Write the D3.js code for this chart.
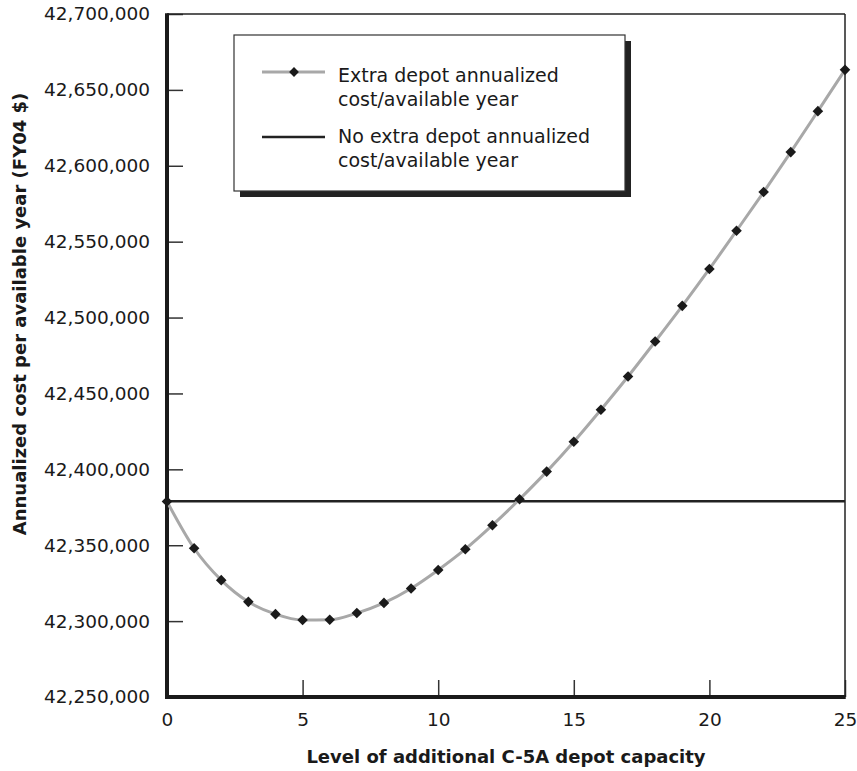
<!DOCTYPE html>
<html><head><meta charset="utf-8">
<script src="https://cdn.jsdelivr.net/npm/d3@7/dist/d3.min.js"></script>
<style>body{margin:0;background:#fff}</style>
</head><body>
<svg id="chart" width="857" height="771"></svg>
<script>
const levels = [0,1,2,3,4,5,6,7,8,9,10,11,12,13,14,15,16,17,18,19,20,21,22,23,24,25];
const extraDepotCost = [42378800,42348000,42327000,42312700,42304600,42300700,42300900,42305300,42312000,42321500,42333700,42347400,42363200,42380300,42398500,42418200,42439300,42461200,42484200,42507700,42532000,42557200,42582700,42609000,42636000,42663200];
const noExtraDepotCost = 42378900;
const yTicks = [42250000,42300000,42350000,42400000,42450000,42500000,42550000,42600000,42650000,42700000];
const xTicks = [0,5,10,15,20,25];
const legendLabels = [["Extra depot annualized","cost/available year"],["No extra depot annualized","cost/available year"]];
const xTitle = "Level of additional C-5A depot capacity";
const yTitle = "Annualized cost per available year (FY04 $)";

const svg = d3.select("#chart");
const font = "'DejaVu Sans', sans-serif";
const L = 167, R = 845, T = 14, B = 697;
const x = d3.scaleLinear().domain([0,25]).range([L,R]);
const y = d3.scaleLinear().domain([42250000,42700000]).range([B,T]);

// y axis ticks + labels
const yAx = svg.append("g").attr("transform",`translate(${L},0)`)
  .call(d3.axisLeft(y).tickValues(yTicks).tickSize(-16).tickPadding(17).tickFormat(d3.format(",")));
yAx.select(".domain").remove();
yAx.selectAll("line").attr("stroke","#333").attr("stroke-width",1.5);
yAx.selectAll("text").attr("font-family",font).attr("font-size",18.5).attr("fill","#1a1a1a");

const xAx = svg.append("g").attr("transform",`translate(0,${B})`)
  .call(d3.axisBottom(x).tickValues(xTicks).tickSize(-17).tickPadding(15.5).tickFormat(d3.format("d")));
xAx.select(".domain").remove();
xAx.selectAll("line").attr("stroke","#333").attr("stroke-width",1.5);
xAx.selectAll("text").attr("font-family",font).attr("font-size",18.5).attr("fill","#1a1a1a");

// frame
svg.append("line").attr("x1",L).attr("x2",R).attr("y1",T).attr("y2",T).attr("stroke","#222").attr("stroke-width",1.5);
svg.append("line").attr("x1",R).attr("x2",R).attr("y1",T).attr("y2",B).attr("stroke","#222").attr("stroke-width",1.5);
svg.append("line").attr("x1",L).attr("x2",L).attr("y1",T-0.75).attr("y2",B+2).attr("stroke","#1a1a1a").attr("stroke-width",4);
svg.append("line").attr("x1",L-2).attr("x2",R+0.75).attr("y1",B).attr("y2",B).attr("stroke","#1a1a1a").attr("stroke-width",4);

// no extra depot line
svg.append("line").attr("x1",x(levels[0])).attr("x2",x(levels[levels.length-1]))
  .attr("y1",y(noExtraDepotCost)).attr("y2",y(noExtraDepotCost))
  .attr("stroke","#222").attr("stroke-width",2.5);

// extra depot series
const pts = levels.map((l,i)=>[l,extraDepotCost[i]]);
svg.append("path").datum(pts)
  .attr("d",d3.line().x(d=>x(d[0])).y(d=>y(d[1])).curve(d3.curveMonotoneX))
  .attr("fill","none").attr("stroke","#a8a8a8").attr("stroke-width",3);
const diamond = d3.symbol(d3.symbolSquare, 56)();
svg.append("g").selectAll("path").data(pts).join("path")
  .attr("d",diamond)
  .attr("transform",d=>`translate(${x(d[0])},${y(d[1])}) rotate(45)`)
  .attr("fill","#1a1a1a");

// legend
const lg = svg.append("g");
lg.append("rect").attr("x",240).attr("y",41).attr("width",391).attr("height",156).attr("fill","#222");
lg.append("rect").attr("x",234).attr("y",35).attr("width",391).attr("height",156).attr("fill","#fff").attr("stroke","#333").attr("stroke-width",1.2);
lg.append("line").attr("x1",262).attr("x2",325).attr("y1",72).attr("y2",72).attr("stroke","#a8a8a8").attr("stroke-width",3);
lg.append("path").attr("d",d3.symbol(d3.symbolSquare,48)()).attr("transform","translate(294,72) rotate(45)").attr("fill","#1a1a1a");
lg.append("line").attr("x1",262).attr("x2",325).attr("y1",137).attr("y2",137).attr("stroke","#222").attr("stroke-width",2.5);
const baselines = [[82,106],[143,167]];
legendLabels.forEach((lines,i)=>{
  lines.forEach((t,j)=>{
    lg.append("text").attr("x",338).attr("y",baselines[i][j]).text(t)
      .attr("font-family",font).attr("font-size",19).attr("fill","#1a1a1a");
  });
});

// titles
svg.append("text").attr("x",(L+R)/2).attr("y",763).attr("text-anchor","middle")
  .attr("font-family",font).attr("font-weight","bold").attr("font-size",18).attr("fill","#1a1a1a").text(xTitle);
svg.append("text").attr("transform","translate(25.5,314) rotate(-90)").attr("text-anchor","middle")
  .attr("font-family",font).attr("font-weight","bold").attr("font-size",18).attr("fill","#1a1a1a").text(yTitle);
</script>
</body></html>
